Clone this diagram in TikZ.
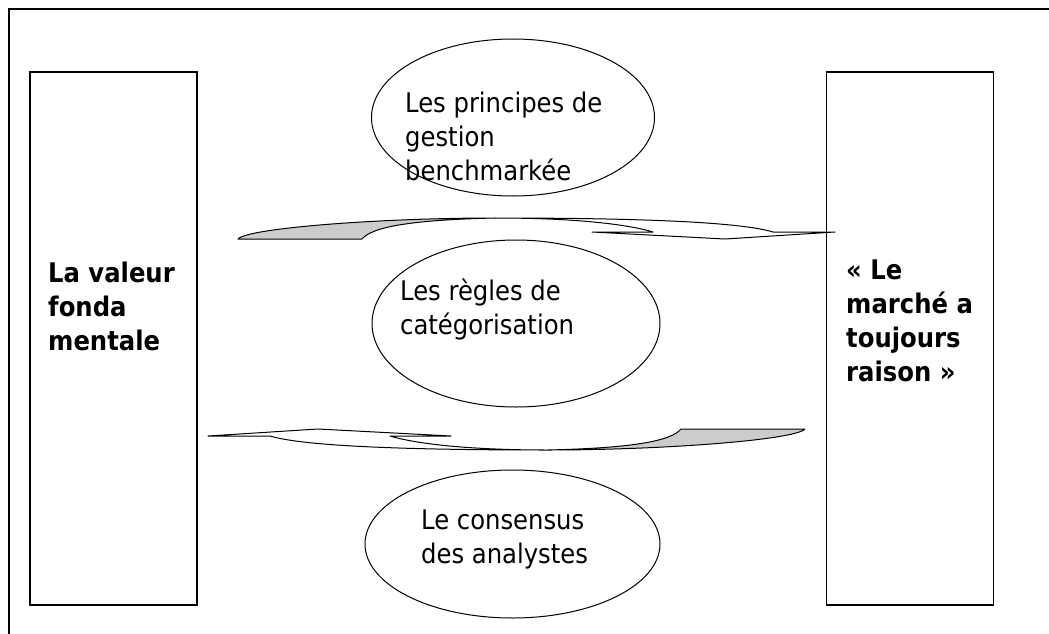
\documentclass[tikz,border=0pt]{standalone}
\usepackage{fontspec}
\setmainfont{DejaVu Sans Condensed}
\usetikzlibrary{shapes.geometric}
\definecolor{bandgray}{RGB}{204,204,204}
\tikzset{
  bloc/.style={draw, line width=1.3pt, minimum width=167pt, minimum height=533pt, inner sep=0pt},
  pole/.style={draw, ellipse, line width=1pt, inner sep=0pt},
  txt/.style={align=left, anchor=west, inner sep=0pt, font=\fontsize{27}{34}\selectfont},
  band/.style={line width=1pt, line join=round},
}

\begin{document}
\begin{tikzpicture}[x=1pt,y=-1pt]
\useasboundingbox (0,0) rectangle (1049,634);
\clip (0,0) rectangle (1049,634);
\draw [line width=1.3pt] (9,9) rectangle (1070,660);
% the two columns
\node [bloc] (valeur) at (113.5,338.5) {};
\node [bloc] (marche) at (910,338.5) {};
\node [txt, font=\fontsize{27}{34}\selectfont\bfseries] (valeurtxt) at (48,306) {La valeur\\fonda\\mentale};
\node [txt, font=\fontsize{27}{34}\selectfont\bfseries] (marchetxt) at (846,320.5) {« Le\\marché a\\toujours\\raison »};
% the three ellipses
\node [pole, minimum width=283pt, minimum height=157pt] (gestion) at (513,117.5) {};
\node [pole, minimum width=288pt, minimum height=167pt] (regles) at (516,323.5) {};
\node [pole, minimum width=295pt, minimum height=148pt] (consensus) at (512.5,544) {};
\node [txt] (gestiontxt) at (405,136) {Les principes de\\gestion\\benchmarkée};
\node [txt] (reglestxt) at (400,309.5) {Les règles de\\catégorisation};
\node [txt] (consensustxt) at (421,539.5) {Le consensus\\des analystes};
% curved band arrows
\foreach \ang in {0,180} {
\begin{scope}[rotate around={\ang:(521.5,334)}]
\filldraw [band, fill=bandgray] (238,239) -- (362,239) .. controls (372,227) and (410,220) .. (495,218) .. controls (380,218) and (248,228) .. (238,239) -- cycle;
\draw [band] (495,218) .. controls (640,218) and (740,222) .. (773,232) -- (835,232) -- (725,239) -- (592,232) -- (653,232) .. controls (630,225) and (580,218) .. (495,218);
\end{scope}
}
\end{tikzpicture}
\end{document}
